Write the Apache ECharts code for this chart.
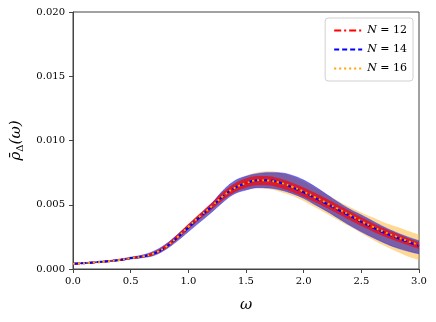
<!DOCTYPE html>
<html>
<head>
<meta charset="utf-8">
<script src="https://cdn.jsdelivr.net/npm/echarts@6/dist/echarts.min.js"></script>
<style>
  html, body { margin: 0; padding: 0; background: #fff; }
  #chart { width: 436px; height: 322px; }
</style>
</head>
<body>
<div id="chart"></div>
<script>
// omega grid
var omega = ['0.0', '0.1', '0.2', '0.3', '0.4', '0.5', '0.6', '0.7', '0.8', '0.9', '1.0', '1.1', '1.2', '1.3', '1.4', '1.5',
  '1.6', '1.7', '1.8', '1.9', '2.0', '2.1', '2.2', '2.3', '2.4', '2.5', '2.6', '2.7', '2.8', '2.9', '3.0'];

// N = 12
var mean12 = [0.00040, 0.00045, 0.00052, 0.00060, 0.00070, 0.00084, 0.00097, 0.00120, 0.00170, 0.00245, 0.00330,
  0.00410, 0.00487, 0.00567, 0.00630, 0.00668, 0.00688, 0.00686, 0.00666, 0.00636, 0.00598,
  0.00555, 0.00510, 0.00463, 0.00416, 0.00368, 0.00324, 0.00284, 0.00248, 0.00214, 0.00182];
var low12 = [0.00035, 0.00040, 0.00047, 0.00055, 0.00065, 0.00078, 0.00089, 0.00108, 0.00155, 0.00226, 0.00310,
  0.00388, 0.00460, 0.00535, 0.00596, 0.00632, 0.00652, 0.00650, 0.00630, 0.00600, 0.00562,
  0.00519, 0.00474, 0.00428, 0.00381, 0.00334, 0.00291, 0.00252, 0.00217, 0.00186, 0.00156];
var high12 = [0.00045, 0.00050, 0.00057, 0.00065, 0.00075, 0.00090, 0.00105, 0.00132, 0.00185, 0.00264, 0.00350,
  0.00432, 0.00514, 0.00599, 0.00664, 0.00704, 0.00724, 0.00722, 0.00702, 0.00672, 0.00634,
  0.00591, 0.00546, 0.00498, 0.00451, 0.00402, 0.00357, 0.00316, 0.00279, 0.00242, 0.00208];

// N = 14
var mean14 = [0.00041, 0.00046, 0.00053, 0.00061, 0.00070, 0.00085, 0.00098, 0.00120, 0.00168, 0.00240, 0.00322,
  0.00405, 0.00482, 0.00565, 0.00630, 0.00668, 0.00690, 0.00690, 0.00670, 0.00636, 0.00596,
  0.00552, 0.00506, 0.00460, 0.00414, 0.00366, 0.00322, 0.00282, 0.00246, 0.00212, 0.00180];
var low14 = [0.00037, 0.00042, 0.00049, 0.00056, 0.00065, 0.00078, 0.00088, 0.00105, 0.00150, 0.00215, 0.00290,
  0.00365, 0.00440, 0.00520, 0.00585, 0.00615, 0.00633, 0.00630, 0.00615, 0.00588, 0.00550,
  0.00500, 0.00450, 0.00395, 0.00340, 0.00290, 0.00245, 0.00203, 0.00167, 0.00140, 0.00118];
var high14 = [0.00045, 0.00050, 0.00057, 0.00065, 0.00076, 0.00092, 0.00108, 0.00138, 0.00190, 0.00262, 0.00340,
  0.00420, 0.00505, 0.00610, 0.00685, 0.00722, 0.00742, 0.00750, 0.00748, 0.00728, 0.00692,
  0.00640, 0.00580, 0.00520, 0.00465, 0.00420, 0.00372, 0.00325, 0.00285, 0.00250, 0.00220];

// N = 16
var mean16 = [0.00040, 0.00045, 0.00052, 0.00060, 0.00070, 0.00085, 0.00097, 0.00121, 0.00170, 0.00244, 0.00328,
  0.00410, 0.00486, 0.00566, 0.00630, 0.00668, 0.00690, 0.00688, 0.00670, 0.00640, 0.00602,
  0.00558, 0.00513, 0.00467, 0.00420, 0.00372, 0.00328, 0.00288, 0.00252, 0.00218, 0.00186];
var low16 = [0.00035, 0.00040, 0.00047, 0.00055, 0.00065, 0.00080, 0.00092, 0.00114, 0.00160, 0.00230, 0.00310,
  0.00390, 0.00460, 0.00540, 0.00590, 0.00620, 0.00628, 0.00620, 0.00600, 0.00570, 0.00530,
  0.00480, 0.00430, 0.00380, 0.00330, 0.00278, 0.00228, 0.00180, 0.00138, 0.00100, 0.00070];
var high16 = [0.00045, 0.00050, 0.00057, 0.00065, 0.00075, 0.00090, 0.00102, 0.00128, 0.00180, 0.00260, 0.00350,
  0.00430, 0.00510, 0.00600, 0.00670, 0.00722, 0.00752, 0.00760, 0.00750, 0.00720, 0.00680,
  0.00630, 0.00580, 0.00530, 0.00482, 0.00440, 0.00400, 0.00362, 0.00330, 0.00298, 0.00268];

var names = ['N = 12', 'N = 14', 'N = 16'];

var serif = 'DejaVu Serif';

function widths(lo, hi) {
  return lo.map(function (v, i) { return hi[i] - v; });
}

// band = invisible lower line + stacked width with fill
function band(id, lo, hi, fill, edge) {
  return [{
    type: 'line', stack: id, smooth: 0.4, symbol: 'none', silent: true,
    data: lo,
    lineStyle: edge ? { color: edge, width: 0.8 } : { opacity: 0 },
    z: 1
  }, {
    type: 'line', stack: id, smooth: 0.4, symbol: 'none', silent: true,
    data: widths(lo, hi),
    lineStyle: edge ? { color: edge, width: 0.8 } : { opacity: 0 },
    areaStyle: { color: fill, opacity: 1 },
    z: 1
  }];
}

var chart = echarts.init(document.getElementById('chart'));

var series = []
  .concat(band('b16', low16, high16, 'rgba(255,178,40,0.5)', null))
  .concat(band('b14', low14, high14, 'rgba(64,44,175,0.7)', 'rgba(40,40,255,0.6)'))
  .concat(band('b12', low12, high12, 'rgba(225,20,35,0.88)', null))
  .concat([{
    name: names[0], type: 'line', smooth: 0.4, symbol: 'none', data: mean12,
    lineStyle: { color: '#ff0000', width: 2, type: [7, 3, 2, 3] }, itemStyle: { color: '#ff0000' }, z: 3
  }, {
    name: names[1], type: 'line', smooth: 0.4, symbol: 'none', data: mean14,
    lineStyle: { color: '#0000ff', width: 2, type: [5, 3] }, itemStyle: { color: '#0000ff' }, z: 4
  }, {
    name: names[2], type: 'line', smooth: 0.4, symbol: 'none', data: mean16,
    lineStyle: { color: '#ffa500', width: 2, type: [2, 3] }, itemStyle: { color: '#ffa500' }, z: 5
  }]);

chart.setOption({
  animation: false,
  grid: {
    left: 73, right: 17, top: 12, bottom: 53,
    show: true, borderColor: '#444', borderWidth: 1, backgroundColor: '#fff'
  },
  legend: {
    data: names,
    orient: 'vertical',
    right: 23, top: 18,
    itemWidth: 28, itemHeight: 10, itemGap: 8,
    padding: [7, 6, 7, 8],
    borderColor: '#d0d0d0', borderWidth: 1, borderRadius: 3,
    backgroundColor: '#fff',
    itemStyle: { opacity: 0 },
    formatter: function (n) { return n.replace('N', '{i|N}'); },
    textStyle: {
      fontFamily: serif, fontSize: 11, color: '#000',
      rich: { i: { fontFamily: serif, fontStyle: 'italic', fontSize: 11, color: '#000' } }
    }
  },
  xAxis: {
    type: 'category', data: omega, boundaryGap: false,
    name: 'ω', nameLocation: 'middle', nameGap: 29,
    nameTextStyle: { fontFamily: serif, fontStyle: 'italic', fontSize: 15, color: '#000' },
    axisLine: { show: true, lineStyle: { color: '#444' } },
    axisTick: { show: true, length: 4, interval: 4, lineStyle: { color: '#444' } },
    splitLine: { show: false },
    axisLabel: { fontFamily: serif, fontSize: 10, color: '#000', margin: 7, interval: 4 }
  },
  yAxis: {
    type: 'value', min: 0, max: 0.02, interval: 0.005,
    name: '{r|ρ̄}{s|Δ}{r|(ω)}', nameLocation: 'middle', nameGap: 46,
    nameTextStyle: {
      color: '#000',
      rich: {
        r: { fontFamily: serif, fontStyle: 'italic', fontSize: 15, color: '#000' },
        s: { fontFamily: serif, fontSize: 10, color: '#000', padding: [8, 0, 0, 0] }
      }
    },
    axisLine: { show: true, lineStyle: { color: '#444' } },
    axisTick: { show: true, length: 4, lineStyle: { color: '#444' } },
    splitLine: { show: false },
    axisLabel: {
      fontFamily: serif, fontSize: 10, color: '#000', margin: 8,
      formatter: function (v) { return v.toFixed(3); }
    }
  },
  series: series
});
</script>
</body>
</html>
